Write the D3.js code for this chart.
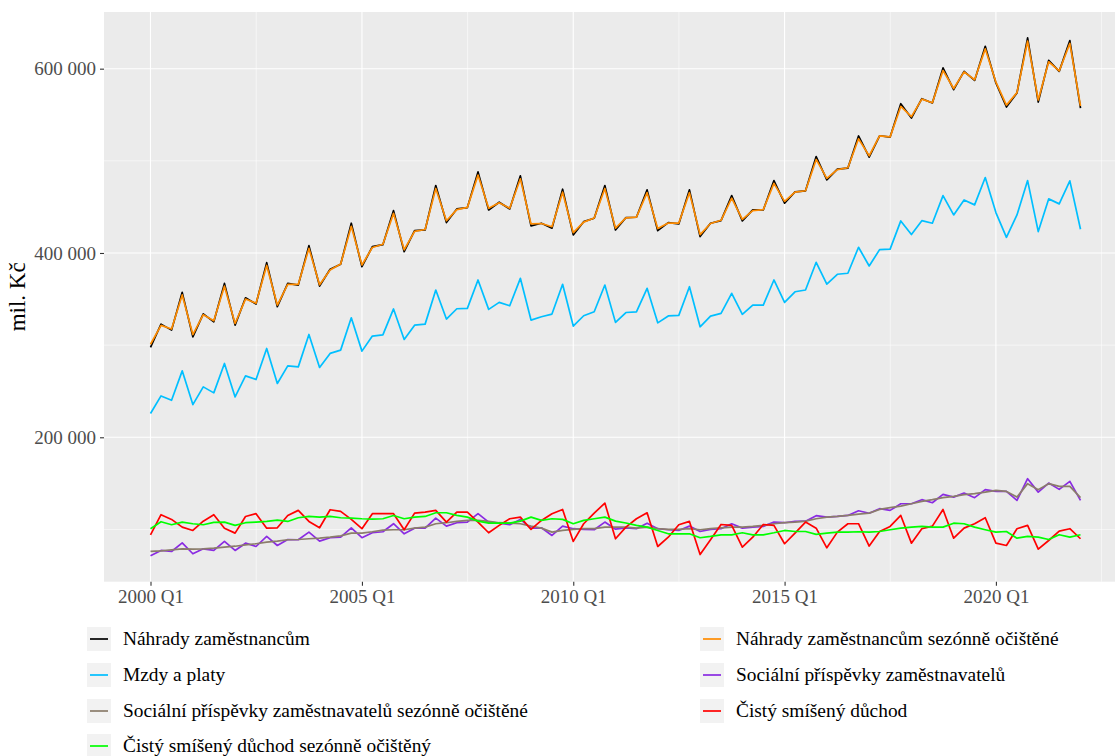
<!DOCTYPE html>
<html>
<head>
<meta charset="utf-8">
<script src="https://cdn.jsdelivr.net/npm/d3@7"></script>
<style>
  body { margin: 0; background: #fff; }
  text { font-family: "Liberation Serif", "DejaVu Serif", serif; }
</style>
</head>
<body>
<div id="chart"></div>
<script>
// quarterly data, mil. Kč, 2000 Q1 .. 2022 Q1
const startQuarter = new Date(2000, 0, 1);
const endQuarter = new Date(2022, 0, 1);

const nahrady = [
  297500, 322800, 316300, 357300, 309000, 334000, 325300, 367000, 321700, 351400,
  344600, 389500, 341700, 367000, 365200, 408000, 364100, 382300, 387700, 432300,
  385100, 406900, 409000, 446000, 401400, 424200, 425000, 473200, 433000, 447800,
  449300, 488000, 446700, 455100, 447800, 483700, 429400, 432300, 426900, 469200,
  419600, 434000, 437700, 473200, 425000, 438400, 438800, 468500, 424200, 433000,
  431500, 468500, 417800, 432300, 435100, 462300, 434800, 446700, 446700, 478600,
  454000, 466300, 467400, 504700, 479400, 491000, 492100, 527000, 504000, 527200,
  525800, 562000, 546400, 567400, 562700, 600800, 577200, 597100, 587300, 624300,
  584500, 558400, 573600, 633400, 563800, 609000, 597100, 630500, 557300
];

const nahradySA = [
  301000, 321500, 317500, 354500, 311500, 333000, 326500, 364000, 323500, 350000,
  345500, 386500, 343500, 366000, 366000, 405000, 365500, 381500, 388000, 429000,
  387000, 406000, 409500, 443000, 403500, 423500, 425500, 470000, 435000, 447000,
  449500, 484500, 448500, 454500, 448500, 480500, 431500, 432000, 428500, 466000,
  422000, 433500, 438000, 470000, 427000, 438000, 439000, 465500, 426500, 432500,
  432500, 465500, 420000, 432000, 435500, 459500, 436500, 446000, 447000, 475500,
  456000, 466000, 467500, 501500, 481000, 490500, 492500, 524000, 505500, 527000,
  526000, 559000, 548000, 567000, 563000, 598000, 578500, 596500, 588000, 621500,
  585500, 560500, 574000, 630000, 566000, 607500, 597500, 627500, 559500
];

const mzdy = [
  225800, 244900, 240200, 272100, 235500, 254700, 248200, 280100, 243800, 266600,
  262700, 296400, 258400, 277500, 276400, 311600, 275800, 291000, 294600, 329700,
  293500, 309800, 311200, 339300, 306200, 321700, 322800, 359800, 328300, 339500,
  339900, 370700, 338800, 346400, 342700, 372500, 327200, 330800, 333700, 366000,
  320700, 331900, 336200, 365200, 324700, 335400, 336200, 361600, 324200, 331700,
  332300, 363400, 319900, 331500, 334400, 356200, 333400, 343500, 343500, 370700,
  346400, 357900, 359800, 389900, 366300, 376900, 378000, 406200, 385900, 403600,
  404200, 434800, 420000, 435100, 432300, 462300, 441300, 457600, 452200, 481900,
  443800, 417000, 441300, 478600, 423200, 458700, 453300, 478300, 425800
];

const socialni = [
  71400, 77200, 76100, 85500, 73600, 79000, 77200, 87000, 77200, 85100,
  81500, 92400, 82600, 89100, 88800, 97100, 87300, 91000, 91600, 101800,
  91000, 96400, 97500, 106200, 95300, 101400, 101400, 112300, 103600, 107300,
  108000, 117100, 108000, 106800, 105100, 110900, 101400, 101800, 93500, 103600,
  100800, 100000, 99700, 108000, 100300, 101800, 100800, 106800, 100800, 99700,
  98900, 103600, 97800, 100000, 100800, 106200, 101400, 102500, 103300, 108000,
  107300, 108700, 109000, 114900, 113400, 114100, 115200, 120300, 117600, 122500,
  120700, 127900, 127900, 132300, 129000, 138000, 135100, 139500, 134500, 143200,
  141300, 141300, 131500, 155100, 140500, 150300, 143500, 152200, 131500
];

const socialniSA = [
  76100, 76800, 77900, 79000, 78600, 79000, 79700, 80800, 81800, 83300,
  84500, 86200, 87300, 88800, 89100, 89900, 90500, 91600, 93100, 96000,
  96000, 97500, 99300, 99700, 99700, 101400, 102500, 106200, 107300, 108700,
  109800, 109800, 108700, 107300, 106800, 106200, 103600, 101400, 97100, 98900,
  100000, 100800, 100800, 102500, 102500, 102500, 101400, 102500, 100800, 100000,
  100000, 100800, 99700, 100800, 101800, 102500, 102500, 103300, 104400, 106200,
  107300, 108000, 109000, 111600, 113400, 114100, 115200, 116700, 117700, 121700,
  123600, 125300, 127900, 130400, 132300, 134500, 135900, 137700, 138800, 140500,
  142400, 141300, 135100, 149700, 143200, 149700, 146700, 146700, 134500
];

const cisty = [
  94200, 116000, 110900, 102500, 98900, 109000, 116000, 101400, 96000, 114100,
  117100, 101400, 101800, 115200, 120700, 108700, 101800, 121400, 119600, 110900,
  100800, 117100, 117100, 117100, 99700, 117700, 118800, 120700, 108000, 118800,
  118800, 108000, 96400, 104400, 111600, 113400, 100000, 109800, 117100, 121700,
  87000, 106200, 117700, 128600, 89900, 102500, 111600, 118100, 81500, 91600,
  105100, 108700, 72800, 88800, 105400, 104400, 80800, 91600, 105400, 104400,
  84500, 96000, 108000, 101400, 80100, 97100, 106200, 106200, 82000, 97800,
  103300, 115200, 85100, 100800, 103600, 121700, 90500, 101400, 106200, 112700,
  85100, 82600, 100800, 104400, 78600, 88000, 98200, 100800, 89900
];

const cistySA = [
  100800, 108400, 105100, 108000, 106200, 105100, 107600, 108000, 104400, 107300,
  108000, 108700, 110100, 108700, 112700, 114100, 113400, 114100, 112700, 112300,
  111600, 111200, 111600, 115200, 111600, 113400, 114100, 118100, 118100, 115200,
  113400, 109000, 106800, 106800, 106800, 109000, 113400, 109800, 111600, 110900,
  106200, 109800, 111600, 113400, 109000, 107000, 104400, 102500, 98900, 95300,
  95300, 95300, 91000, 92400, 94200, 94200, 96400, 94200, 94200, 96400,
  98900, 97800, 97800, 94600, 96000, 97100, 97100, 97500, 97100, 97800,
  99700, 101400, 102500, 103300, 102500, 102500, 106800, 106200, 102500, 99700,
  97100, 97800, 90500, 92400, 91600, 89100, 94200, 91600, 94200
];

const seriesNames = [
  "Náhrady zaměstnancům",
  "Náhrady zaměstnancům sezónně očištěné",
  "Mzdy a platy",
  "Sociální příspěvky zaměstnavatelů",
  "Sociální příspěvky zaměstnavatelů sezónně očištěné",
  "Čistý smíšený důchod",
  "Čistý smíšený důchod sezónně očištěný"
];
const seriesColors = ["#000000", "#FF8C00", "#00BFFF", "#8A2BE2", "#8B7D6B", "#FF0000", "#00FF00"];
const seriesValues = [nahrady, nahradySA, mzdy, socialni, socialniSA, cisty, cistySA];

const xTickDates = [new Date(2000, 0, 1), new Date(2005, 0, 1), new Date(2010, 0, 1), new Date(2015, 0, 1), new Date(2020, 0, 1)];
const xTickLabels = ["2000 Q1", "2005 Q1", "2010 Q1", "2015 Q1", "2020 Q1"];
const yTicks = [200000, 400000, 600000];
const yMinor = [100000, 300000, 500000];

const width = 1115;
const height = 756;
const panel = { left: 104, top: 12, right: 1127, bottom: 581.7 };

const quarters = d3.timeMonth.every(3).range(startQuarter, d3.timeDay.offset(endQuarter, 1));

const svg = d3.select("#chart")
    .append("svg")
    .attr("width", width)
    .attr("height", height);

// ggplot style 5% expansion
const t0 = startQuarter.getTime(), t1 = endQuarter.getTime();
const tPad = (t1 - t0) * 0.05;
const xScale = d3.scaleTime()
    .domain([new Date(t0 - tPad), new Date(t1 + tPad)])
    .range([panel.left, panel.right]);

const allValues = seriesValues.flat();
const vMin = d3.min(allValues), vMax = d3.max(allValues);
const vPad = (vMax - vMin) * 0.05;
const yScale = d3.scaleLinear()
    .domain([vMin - vPad, vMax + vPad])
    .range([panel.bottom, panel.top]);

svg.append("rect")
    .attr("x", panel.left)
    .attr("y", panel.top)
    .attr("width", panel.right - panel.left)
    .attr("height", panel.bottom - panel.top)
    .attr("fill", "#EBEBEB");

// minor grid
const xMinor = [];
for (let i = 0; i < xTickDates.length; i++) {
    const a = xScale(xTickDates[i]);
    const b = i + 1 < xTickDates.length ? xScale(xTickDates[i + 1]) : a + (a - xScale(xTickDates[i - 1]));
    xMinor.push((a + b) / 2);
}
svg.selectAll(".xMinor")
    .data(xMinor)
    .enter()
    .append("line")
    .attr("x1", d => d).attr("x2", d => d)
    .attr("y1", panel.top).attr("y2", panel.bottom)
    .attr("stroke", "#fff").attr("stroke-width", 0.55);

svg.selectAll(".yMinor")
    .data(yMinor)
    .enter()
    .append("line")
    .attr("x1", panel.left).attr("x2", panel.right)
    .attr("y1", d => yScale(d)).attr("y2", d => yScale(d))
    .attr("stroke", "#fff").attr("stroke-width", 0.55);

// major grid
svg.selectAll(".xGrid")
    .data(xTickDates)
    .enter()
    .append("line")
    .attr("x1", d => xScale(d)).attr("x2", d => xScale(d))
    .attr("y1", panel.top).attr("y2", panel.bottom)
    .attr("stroke", "#fff").attr("stroke-width", 1.1);

svg.selectAll(".yGrid")
    .data(yTicks)
    .enter()
    .append("line")
    .attr("x1", panel.left).attr("x2", panel.right)
    .attr("y1", d => yScale(d)).attr("y2", d => yScale(d))
    .attr("stroke", "#fff").attr("stroke-width", 1.1);

// lines
const line = d3.line()
    .x((d, i) => xScale(quarters[i]))
    .y(d => yScale(d));

seriesValues.forEach((vals, k) => {
    svg.append("path")
        .datum(vals)
        .attr("fill", "none")
        .attr("stroke", seriesColors[k])
        .attr("stroke-width", 1.7)
        .attr("stroke-linejoin", "round")
        .attr("d", line);
});

// axes
const fmt = d3.formatLocale({ decimal: ",", thousands: " ", grouping: [3], currency: ["", " Kč"] }).format(",");

const xAxis = svg.append("g")
    .attr("transform", `translate(0,${panel.bottom})`)
    .call(d3.axisBottom(xScale)
        .tickValues(xTickDates)
        .tickFormat((d, i) => xTickLabels[i])
        .tickSize(4)
        .tickPadding(4));
xAxis.select(".domain").remove();
xAxis.selectAll("line").attr("stroke", "#333333").attr("stroke-width", 1.1);
xAxis.selectAll("text")
    .attr("fill", "#4D4D4D")
    .style("font-size", "19px")
    .style("font-family", "Liberation Serif");

const yAxis = svg.append("g")
    .attr("transform", `translate(${panel.left},0)`)
    .call(d3.axisLeft(yScale)
        .tickValues(yTicks)
        .tickFormat(fmt)
        .tickSize(4)
        .tickPadding(4));
yAxis.select(".domain").remove();
yAxis.selectAll("line").attr("stroke", "#333333").attr("stroke-width", 1.1);
yAxis.selectAll("text")
    .attr("fill", "#4D4D4D")
    .style("font-size", "19px")
    .style("font-family", "Liberation Serif");

svg.append("text")
    .attr("transform", `translate(25,${(panel.top + panel.bottom) / 2}) rotate(-90)`)
    .style("text-anchor", "middle")
    .style("font-size", "23px")
    .style("fill", "#000")
    .text("mil. Kč");

// legend, two columns by row
const legendCols = [87, 700];
const legendRows = [639, 675, 711, 746];
seriesNames.forEach((name, k) => {
    const cx = legendCols[k % 2];
    const cy = legendRows[Math.floor(k / 2)];
    const g = svg.append("g").attr("transform", `translate(${cx},${cy})`);
    g.append("rect")
        .attr("x", 0).attr("y", -12)
        .attr("width", 24).attr("height", 24)
        .attr("fill", "#F2F2F2");
    g.append("line")
        .attr("x1", 3).attr("x2", 21)
        .attr("y1", 0).attr("y2", 0)
        .attr("stroke", seriesColors[k])
        .attr("stroke-width", 1.7);
    g.append("text")
        .attr("x", 36)
        .attr("y", 6)
        .style("font-size", "19.4px")
        .style("fill", "#000")
        .text(name);
});
</script>
</body>
</html>
